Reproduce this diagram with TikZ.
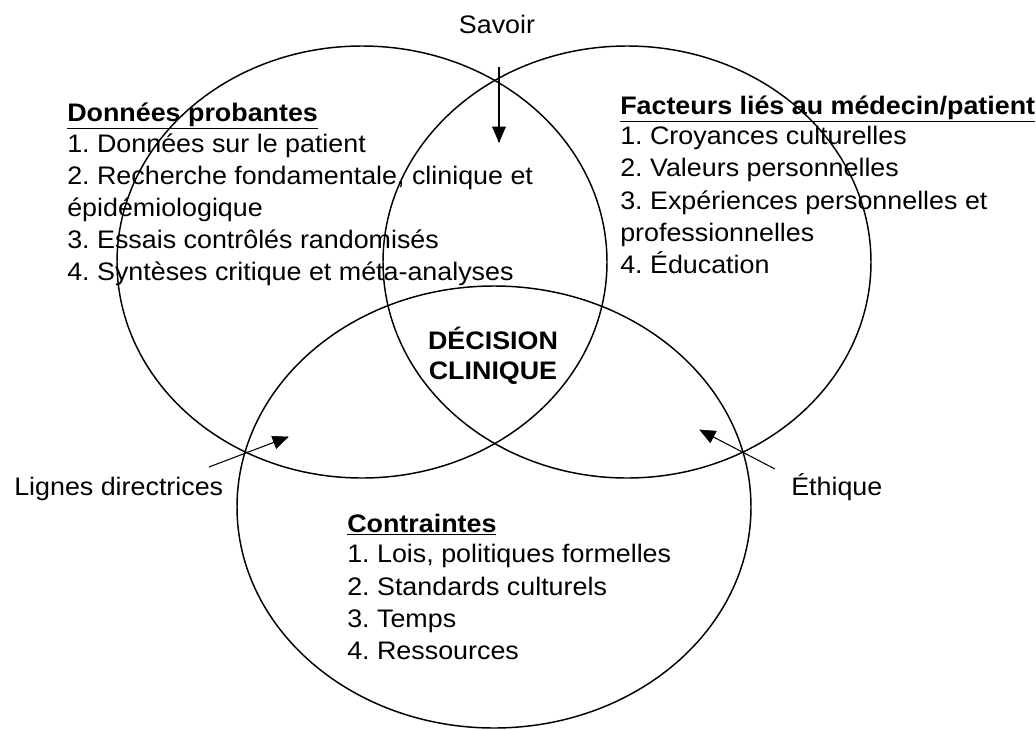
\documentclass[tikz,border=0pt]{standalone}
\usepackage{fontspec}
\setmainfont{Liberation Sans}[FakeStretch=1.06]
\usepackage{tikz}
\frenchspacing

\begin{document}
\begin{tikzpicture}[x=0.75pt,y=0.75pt,yscale=-1,xscale=1,
  txt/.style={anchor=base west,inner sep=0.75pt,font=\fontsize{19}{24}\selectfont},
  head/.style={txt,font=\fontsize{19}{24}\selectfont\bfseries},
  ring/.style={line width=1.1},
  pointer/.style={line width=0.8}]
\path [use as bounding box] (0,0) rectangle (1036,729);

%Shape: Ellipse (Données probantes)
\draw [ring] (362,262) ellipse [x radius=245, y radius=216];
%Shape: Ellipse (Facteurs)
\draw [ring] (627,262) ellipse [x radius=244, y radius=216];
%Shape: Ellipse (Contraintes)
\draw [ring] (494,507) ellipse [x radius=257, y radius=221];

% Text Node
\node [txt,anchor=base] (savoir) at (497,33) {Savoir};
% Text Node
\node [head] (dph) at (66,121) {\underline{Données probantes}};
\node [txt] (dp1) at (66,152) {1. Données sur le patient};
\node [txt] (dp2) at (66,184) {2. Recherche fondamentale, clinique et};
\node [txt] (dp3) at (66,216) {épidémiologique};
\node [txt] (dp4) at (66,248) {3. Essais contrôlés randomisés};
\node [txt] (dp5) at (66,280) {4. Syntèses critique et méta-analyses};
% Text Node
\node [head] (fmh) at (619,114) {\underline{Facteurs liés au médecin/patient}};
\node [txt] (fm1) at (619,144) {1. Croyances culturelles};
\node [txt] (fm2) at (619,176) {2. Valeurs personnelles};
\node [txt] (fm3) at (619,209) {3. Expériences personnelles et};
\node [txt] (fm4) at (619,241) {professionnelles};
\node [txt] (fm5) at (619,273) {4. Éducation};
% Text Node
\node [head,anchor=base] (dec1) at (493,349) {DÉCISION};
\node [head,anchor=base] (dec2) at (493,379) {CLINIQUE};
% Text Node
\node [txt] (lignes) at (13,495) {Lignes directrices};
\node [txt] (ethique) at (790,495) {Éthique};
% Text Node
\node [head] (cth) at (346,532) {\underline{Contraintes}};
\node [txt] (ct1) at (346,562) {1. Lois, politiques formelles};
\node [txt] (ct2) at (346,595) {2. Standards culturels};
\node [txt] (ct3) at (346,627) {3. Temps};
\node [txt] (ct4) at (346,659) {4. Ressources};

\coordinate (savoirfrom) at (499,67);
\coordinate (savoirto) at (499,142);
\coordinate (lignesfrom) at (209,467);
\coordinate (lignesto) at (288,437);
\coordinate (ethiquefrom) at (775,469);
\coordinate (ethiqueto) at (700,430);

%Straight Lines
\draw [pointer] (savoirfrom) -- (savoirto);
\draw [shift={(savoirto)}, rotate = -90] [fill=black] (15,-6.5) -- (0,0) -- (15,6.5) -- cycle;
%Straight Lines
\draw [pointer] (lignesfrom) -- (lignesto);
\draw [shift={(lignesto)}, rotate = 159.2] [fill=black] (15,-6.5) -- (0,0) -- (15,6.5) -- cycle;
%Straight Lines
\draw [pointer] (ethiquefrom) -- (ethiqueto);
\draw [shift={(ethiqueto)}, rotate = 27.5] [fill=black] (15,-6.5) -- (0,0) -- (15,6.5) -- cycle;

\end{tikzpicture}
\end{document}
